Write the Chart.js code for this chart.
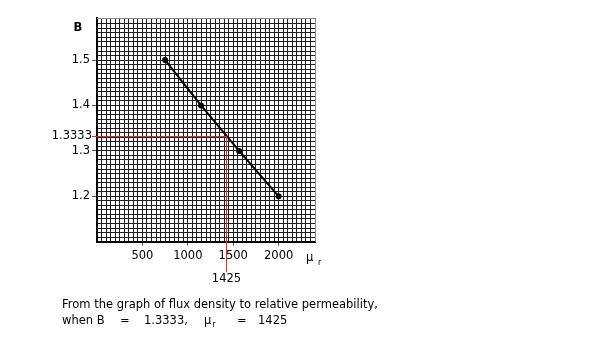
<!DOCTYPE html>
<html>
<head>
<meta charset="utf-8">
<script src="https://cdn.jsdelivr.net/npm/chart.js@4.4.1/dist/chart.umd.min.js"></script>
<style>
  html, body { margin: 0; padding: 0; background: #fff; }
  #wrap { position: relative; width: 600px; height: 351px; overflow: hidden; }
  canvas { position: absolute; left: 0; top: 0; }
  .txt { position: absolute; font-family: "DejaVu Sans", Verdana, sans-serif; font-size: 11.5px; color: #000; white-space: pre; line-height: 14px; }
  .sub { font-size: 8px; position: relative; top: 3px; margin-left: 1px; }
</style>
</head>
<body>
<div id="wrap">
  <canvas id="c" width="600" height="351"></canvas>
  <div class="txt" style="left:62px;top:297px">From the graph of flux density to relative permeability,</div>
  <div class="txt" style="left:62px;top:313px">when B</div>
  <div class="txt" style="left:120px;top:313px">=</div>
  <div class="txt" style="left:144px;top:313px">1.3333,</div>
  <div class="txt" style="left:204px;top:313px">μ<span class="sub">r</span></div>
  <div class="txt" style="left:237px;top:313px">=</div>
  <div class="txt" style="left:258px;top:313px">1425</div>
</div>
<script>
// Data
const muR = [750, 1145, 1565, 2000];          // relative permeability
const fluxB = [1.5, 1.4, 1.3, 1.2];           // flux density B
const readB = 1.3333;                          // read-off value of B
const readMu = 1425;                           // read-off value of mu_r
const xTickLabels = [500, 1000, 1500, 2000];
const yTickLabels = [1.2, 1.3, 1.4, 1.5];

const FONT = '"DejaVu Sans", Verdana, sans-serif';

const isLabeled = (v, list) => list.some(t => Math.abs(t - v) < 1e-6);

const overlay = {
  id: 'overlay',
  afterDatasetsDraw(chart) {
    const ctx = chart.ctx;
    const xs = chart.scales.x, ys = chart.scales.y;
    const ca = chart.chartArea;
    ctx.save();
    // grey top/right frame
    ctx.strokeStyle = '#8a8a8a';
    ctx.lineWidth = 1;
    ctx.beginPath();
    ctx.moveTo(ca.left, Math.round(ca.top) + 0.5);
    ctx.lineTo(ca.right + 0.5, Math.round(ca.top) + 0.5);
    ctx.lineTo(ca.right + 0.5, ca.bottom);
    ctx.stroke();
    // red read-off lines
    const px = Math.round(xs.getPixelForValue(readMu)) + 0.5;
    const py = Math.round(ys.getPixelForValue(readB)) + 0.5;
    ctx.strokeStyle = '#ff2020';
    ctx.beginPath();
    ctx.moveTo(ca.left - 5, py);
    ctx.lineTo(px, py);
    ctx.lineTo(px, ca.bottom + 30);
    ctx.stroke();
    // texts
    ctx.fillStyle = '#000';
    ctx.font = '11.5px ' + FONT;
    ctx.textBaseline = 'middle';
    ctx.textAlign = 'right';
    ctx.fillText(String(readB), ca.left - 5, py);
    ctx.textAlign = 'center';
    ctx.fillText(String(readMu), px, ca.bottom + 37);
    ctx.font = 'bold 11.5px ' + FONT;
    ctx.fillText('B', ca.left - 19, ca.top + 10);
    ctx.font = '11.5px ' + FONT;
    ctx.textAlign = 'left';
    ctx.fillText('μ', ca.right - 9, ca.bottom + 16);
    ctx.font = '8px ' + FONT;
    ctx.fillText('r', ca.right + 3, ca.bottom + 21);
    ctx.restore();
  }
};

new Chart(document.getElementById('c'), {
  type: 'scatter',
  data: {
    datasets: [{
      data: muR.map((m, i) => ({ x: m, y: fluxB[i] })),
      showLine: true,
      borderColor: '#000',
      borderWidth: 2,
      backgroundColor: '#000',
      pointRadius: 3,
      pointBorderWidth: 0,
      tension: 0
    }]
  },
  options: {
    responsive: false,
    animation: false,
    devicePixelRatio: 1,
    layout: { padding: { left: 0, top: 18, right: 285, bottom: 0 } },
    plugins: { legend: { display: false }, tooltip: { enabled: false } },
    scales: {
      x: {
        type: 'linear',
        min: 0, max: 2400,
        afterFit(s) { s.height = 109.3; },
        border: { color: '#000', width: 2 },
        grid: {
          color: '#1e1e1e',
          lineWidth: 1,
          tickLength: 4,
          tickColor: c => isLabeled(c.tick.value, xTickLabels) ? '#555' : 'rgba(0,0,0,0)'
        },
        ticks: {
          stepSize: 50,
          autoSkip: false,
          maxRotation: 0,
          padding: 3,
          color: '#000',
          font: { family: FONT, size: 11.5 },
          callback: v => isLabeled(v, xTickLabels) ? String(Math.round(v)) : ''
        }
      },
      y: {
        type: 'linear',
        min: 1.1, max: 1.5927,
        afterFit(s) { s.width = 97; },
        border: { color: '#000', width: 2 },
        grid: {
          color: '#1e1e1e',
          lineWidth: 1,
          tickLength: 5,
          tickColor: c => isLabeled(c.tick.value, yTickLabels) ? '#555' : 'rgba(0,0,0,0)'
        },
        ticks: {
          stepSize: 0.01,
          autoSkip: false,
          padding: 2,
          color: '#000',
          font: { family: FONT, size: 11.5 },
          callback: v => isLabeled(v, yTickLabels) ? (Math.round(v * 10) / 10).toFixed(1) : ''
        }
      }
    }
  },
  plugins: [overlay]
});
</script>
</body>
</html>
